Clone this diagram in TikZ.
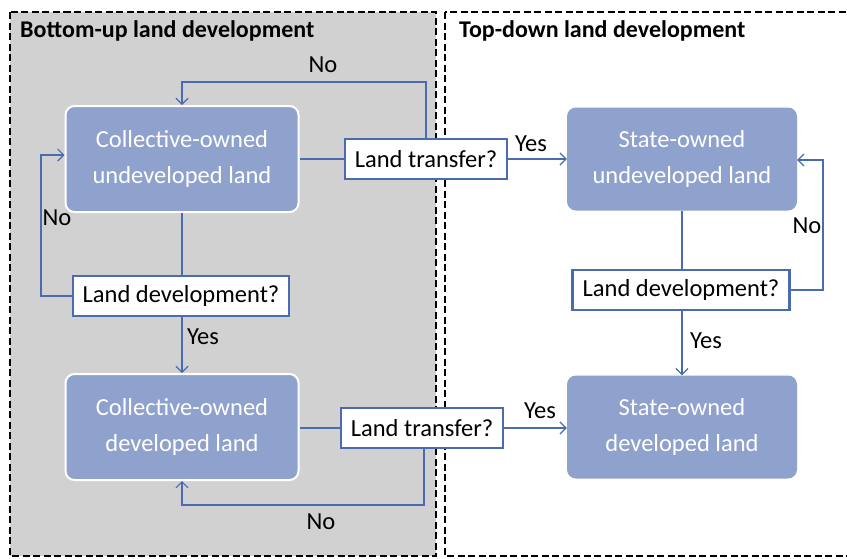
\documentclass[tikz,border=0pt]{standalone}
\usepackage{fontspec}
\setmainfont{Carlito}
\usetikzlibrary{arrows.meta}
\definecolor{boxblue}{HTML}{8FA1CD}
\definecolor{lineblue}{HTML}{4A6BB0}
\definecolor{panelgray}{HTML}{D1D1D1}
\begin{document}
\begin{tikzpicture}[x=1pt,y=-1pt,
  panel/.style={draw=black,line width=2.8pt,dash pattern=on 7pt off 3.5pt},
  landbox/.style={rounded corners=9pt,fill=boxblue,text=white,font=\fontsize{24.5}{36}\selectfont,align=center,minimum width=233pt,minimum height=106pt,inner sep=0pt},
  qbox/.style={draw=lineblue,line width=2.3pt,fill=white,font=\fontsize{24.5}{28}\selectfont,inner sep=0pt,minimum height=40pt},
  conn/.style={draw=lineblue,line width=1.2pt},
  arr/.style={conn,-{Straight Barb[length=6pt,width=12pt]}},
  lbl/.style={font=\fontsize{24.5}{28}\selectfont,inner sep=0pt},
  ttl/.style={font=\fontsize{24}{28}\selectfont\bfseries,inner sep=0pt,anchor=west}]
\useasboundingbox (0,0) rectangle (847,558);
\fill[white] (0,0) rectangle (847,558);
\begin{scope}
\clip (0,0) rectangle (847,558);
\fill[panelgray] (10,12) rectangle (436,556);
\draw[panel] (10,12) rectangle (436,556);
\draw[panel] (445,12) rectangle (852,556);
\end{scope}
\node[ttl] (t1) at (20,31) {Bottom-up land development};
\node[ttl] (t2) at (459,31) {Top-down land development};
% land boxes
\node[landbox,draw=white,line width=2pt] (cu) at (182,159) {Collective-owned\\undeveloped land};
\node[landbox,draw=white,line width=2pt] (cd) at (182,427) {Collective-owned\\developed land};
\node[landbox,minimum width=230pt,minimum height=103pt] (su) at (682,159) {State-owned\\undeveloped land};
\node[landbox,minimum width=230pt,minimum height=103pt] (sd) at (682,427) {State-owned\\developed land};
% questions
\node[qbox,minimum width=162pt] (lt1) at (426,159) {Land transfer?};
\node[qbox,minimum width=216pt] (ld1) at (181,296) {Land development?};
\node[qbox,minimum width=162pt] (lt2) at (422,428) {Land transfer?};
\node[qbox,minimum width=217pt] (ld2) at (681,290) {Land development?};
% coordinates
\coordinate (c1) at (426,82);
\coordinate (c2) at (182,82);
\coordinate (c3) at (41,296);
\coordinate (c4) at (41,155);
\coordinate (c5) at (424,505);
\coordinate (c6) at (182,505);
\coordinate (c7) at (823,290);
\coordinate (c8) at (823,160);
% connectors
\draw[conn] (cu.east) -- (lt1.west);
\draw[arr] (lt1.east) -- (su.west);
\draw[arr] (lt1.north) -- (c1) -- (c2) -- (cu.north);
\draw[conn] (cu.south) -- (ld1.north -| cu.south);
\draw[arr] (ld1.west) -- (c3) -- (c4) -- (cu.west |- c4);
\draw[arr] (ld1.south -| cd.north) -- (cd.north);
\draw[conn] (cd.east |- lt2) -- (lt2.west);
\draw[arr] (lt2.east) -- (sd.west |- lt2.east);
\draw[arr] (lt2.south -| c5) -- (c5) -- (c6) -- (cd.south);
\draw[conn] (su.south) -- (ld2.north -| su.south);
\draw[arr] (ld2.east) -- (c7) -- (c8) -- (su.east |- c8);
\draw[arr] (ld2.south -| sd.north) -- (sd.north);
% labels
\node[lbl] (y1) at (531,144) {Yes};
\node[lbl] (n1) at (323,65) {No};
\node[lbl] (n2) at (57,218) {No};
\node[lbl] (y2) at (203,337) {Yes};
\node[lbl] (y3) at (540,411) {Yes};
\node[lbl] (n3) at (321,522) {No};
\node[lbl] (n4) at (807,226) {No};
\node[lbl] (y4) at (706,341) {Yes};
\end{tikzpicture}
\end{document}
